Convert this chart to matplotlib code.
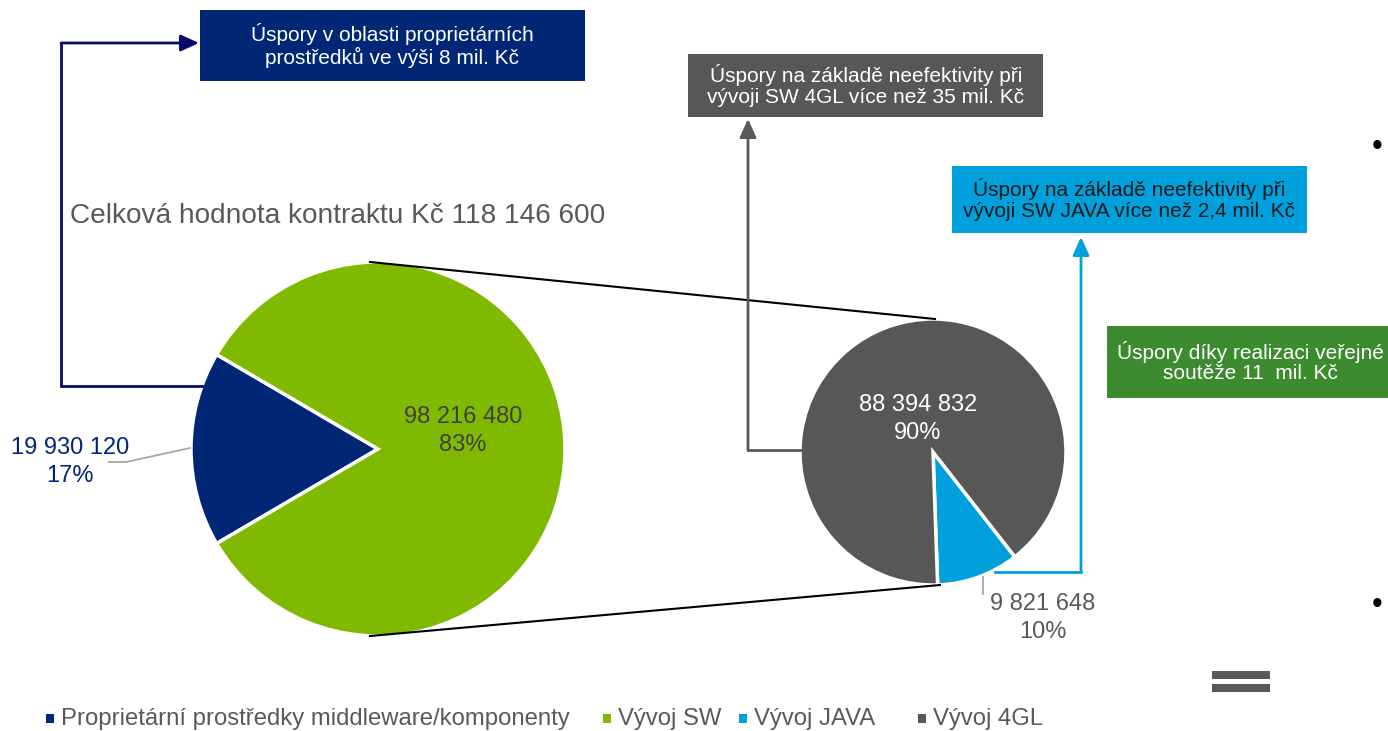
import matplotlib
matplotlib.use("Agg")
import matplotlib.pyplot as plt
from matplotlib.patches import Rectangle

plt.rcParams['font.family'] = ['Liberation Sans', 'DejaVu Sans']

W, H = 1388, 731

# Contract split (Kč)
main_labels = ["Proprietární prostředky middleware/komponenty", "Vývoj SW"]
main_values = [19930120, 98216480]
main_colors = ["#002776", "#7FBA00"]

# Breakdown of "Vývoj SW"
sw_labels = ["Vývoj JAVA", "Vývoj 4GL"]
sw_values = [9821648, 88394832]
sw_colors = ["#00A0DC", "#575757"]

title_text = "Celková hodnota kontraktu Kč 118 146 600"

callout_texts = [
    "Úspory v oblasti proprietárních\nprostředků ve výši 8 mil. Kč",
    "Úspory na základě neefektivity při\nvývoji SW 4GL více než 35 mil. Kč",
    "Úspory na základě neefektivity při\nvývoji SW JAVA více než 2,4 mil. Kč",
    "Úspory díky realizaci veřejné\nsoutěže 11  mil. Kč",
]
callout_fill = ["#002776", "#575757", "#00A0DC", "#3D8B2F"]
callout_ink = ["white", "white", "#1A1A1A", "white"]

legend_labels = ["Proprietární prostředky middleware/komponenty", "Vývoj SW",
                 "Vývoj JAVA", "Vývoj 4GL"]
legend_colors = ["#002776", "#7FBA00", "#00A0DC", "#575757"]


def Y(y):
    return H - y


def fmt(v):
    return f"{v:,}".replace(",", " ")


fig = plt.figure(figsize=(W / 100, H / 100), dpi=100)
ax = fig.add_axes([0, 0, 1, 1])

# ---- main pie ----
c1 = (378, Y(449))
r1 = 187
tot1 = sum(main_values)
navy_deg = main_values[0] / tot1 * 360
ax.pie(main_values, colors=main_colors, center=c1, radius=r1,
       startangle=180 - navy_deg / 2, counterclock=True,
       wedgeprops=dict(edgecolor="white", linewidth=2.5))

# ---- secondary pie ----
c2 = (933, Y(452))
r2 = 133
tot2 = sum(sw_values)
ax.pie(sw_values, colors=sw_colors, center=c2, radius=r2,
       startangle=-88, counterclock=True, explode=[0.07, 0],
       wedgeprops=dict(edgecolor="white", linewidth=2.5))

# connector lines between the pies
ax.plot([c1[0] - 8, c2[0] + 2], [c1[1] + r1, c2[1] + r2], color="black", lw=1.5)
ax.plot([c1[0] - 8, c2[0] + 7], [c1[1] - r1, c2[1] - r2], color="black", lw=1.5)

# ---- value labels ----
pct1 = [round(v / tot1 * 100) for v in main_values]
pct2 = [round(v / tot2 * 100) for v in sw_values]
lab_fs = 17
ls = 1.32
ax.text(463, Y(431), f"{fmt(main_values[1])}\n{pct1[1]}%", ha="center", va="center",
        fontsize=lab_fs, color="#404040", linespacing=ls)
ax.text(70, Y(462), f"{fmt(main_values[0])}\n{pct1[0]}%", ha="center", va="center",
        fontsize=lab_fs, color="#002776", linespacing=ls)
ax.plot([109, 126, 190], [Y(462), Y(462), Y(448)], color="#A6A6A6", lw=1.3)

ax.text(918, Y(419), f"{fmt(sw_values[1])}\n{pct2[1]}%", ha="center", va="center",
        fontsize=lab_fs, color="white", linespacing=ls)
ax.text(1043, Y(618), f"{fmt(sw_values[0])}\n{pct2[0]}%", ha="center", va="center",
        fontsize=lab_fs, color="#595959", linespacing=ls)
ax.plot([983, 983], [Y(577), Y(594)], color="#A6A6A6", lw=1.3)

# ---- title ----
ax.text(70, Y(216), title_text, ha="left", va="center", fontsize=20.2, color="#595959")

# ---- callout boxes ----
boxes = [(200, 10, 585, 81), (688, 54, 1043, 117), (952, 166, 1307, 233),
         (1107, 326, 1400, 398)]
text_cx = [392, 866, 1129, 1250]
for (x0, y0, x1, y1), fc, ink, txt, tx in zip(boxes, callout_fill, callout_ink,
                                               callout_texts, text_cx):
    ax.add_patch(Rectangle((x0, Y(y1)), x1 - x0, y1 - y0, facecolor=fc,
                           edgecolor="none", zorder=3))
    ax.text(tx, Y((y0 + y1) / 2), txt, ha="center", va="center", fontsize=15,
            color=ink, linespacing=1.12, zorder=4)


def elbow(points, color):
    xs = [p[0] for p in points[:-1]]
    ys = [Y(p[1]) for p in points[:-1]]
    ax.plot(xs, ys, color=color, lw=2, solid_joinstyle="miter", zorder=2)
    ax.annotate("", xy=(points[-1][0], Y(points[-1][1])),
                xytext=(points[-2][0], Y(points[-2][1])),
                arrowprops=dict(arrowstyle="-|>,head_length=1.1,head_width=0.5",
                                color=color, lw=2, shrinkA=0, shrinkB=0),
                zorder=2)


elbow([(202, 386), (61, 386), (61, 43), (199, 43)], "#0A0A6E")
elbow([(800, 450), (748, 450), (748, 119)], "#595959")
elbow([(995, 572), (1081, 572), (1081, 237)], "#00A0DC")

# ---- legend ----
leg_x = [50, 607, 743, 922]
for x, lab, col in zip(leg_x, legend_labels, legend_colors):
    ax.add_patch(Rectangle((x - 4, Y(723)), 8, 9, facecolor=col, edgecolor="none"))
    ax.text(x + 11, Y(719), lab, ha="left", va="center", fontsize=17.2, color="#595959")

# ---- side decorations ----
for yb in (147, 605):
    ax.text(1377, Y(yb), "•", ha="center", va="center", fontsize=22, color="black")
for yb in (671, 684):
    ax.add_patch(Rectangle((1212, Y(yb + 8)), 58, 8, facecolor="#595959",
                           edgecolor="none"))

ax.set_xlim(0, W)
ax.set_ylim(0, H)
ax.set_aspect("auto")
ax.axis("off")

fig.savefig("out.png", dpi=100)
